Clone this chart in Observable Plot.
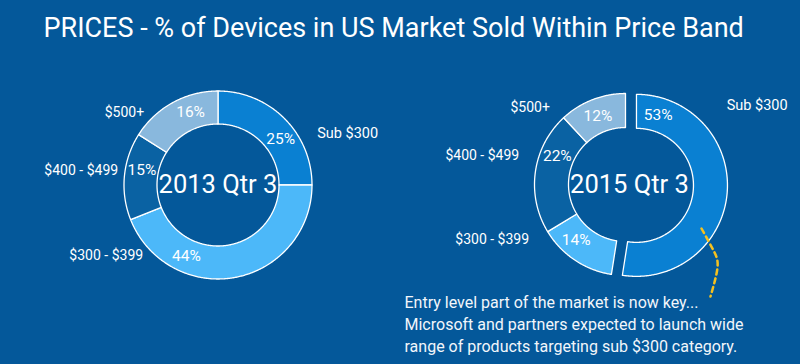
<!DOCTYPE html>
<html><head><meta charset="utf-8">
<script src="https://cdn.jsdelivr.net/npm/d3@7"></script>
<script src="https://cdn.jsdelivr.net/npm/@observablehq/plot@0.6"></script>
<style>
html,body{margin:0;padding:0;background:#04589a;width:800px;height:364px;overflow:hidden}
#chart svg{display:block;background:#04589a}
</style></head><body><div id="chart"></div>
<script>
// ---- data ----
const title = "PRICES - % of Devices in US Market Sold Within Price Band";
const periods = ["2013 Qtr 3", "2015 Qtr 3"];
const bands = ["Sub $300", "$300 - $399", "$400 - $499", "$500+"];
const share2013 = [25, 44, 15, 16];
const share2015 = [53, 14, 22, 12];
const note = [
  "Entry level part of the market is now key...",
  "Microsoft and partners expected to launch wide",
  "range of products targeting sub $300 category."
];

// ---- style / layout ----
const colors = ["#0a80d2", "#4cb8f9", "#0a62a3", "#89b8dd"];
const FONT = "Roboto, 'Liberation Sans', sans-serif";
const W = 800, H = 364;
const layout = [
  {cx: 217.5, cy: 184.5, R: 94, r: 61, explode: [0, 0, 0, 0], labelAt: [0.6, 0.72, 0.6, 0.64], gap: [17, 13, 7, 14], lift: [-6, 0, 0, 0]},
  {cx: 625, cy: 184, R: 91, r: 57, explode: [11, 0, 0, 0], labelAt: [0.09, 0.66, 0.69, 0.49], gap: [33, 24, 20, 16], lift: [-9, 0, 0, -8]}
];

const shares = [share2013, share2015];
const polys = [], pctLabels = [], catLabels = [], centers = [];
periods.forEach((p, i) => {
  const L = layout[i];
  centers.push({x: L.cx + (i ? 4 : 0), y: L.cy, text: p});
  const arcs = d3.pie().sort(null).value(d => d)(shares[i]);
  arcs.forEach((a, j) => {
    const mid = (a.startAngle + a.endAngle) / 2;
    const cx = L.cx + L.explode[j] * Math.sin(mid);
    const cy = L.cy - L.explode[j] * Math.cos(mid);
    const n = Math.max(2, Math.ceil((a.endAngle - a.startAngle) / 0.01));
    const id = p + "|" + bands[j];
    for (let k = 0; k <= n; k++) {
      const t = a.startAngle + (a.endAngle - a.startAngle) * k / n;
      polys.push({id, band: bands[j], x: cx + L.R * Math.sin(t), y: cy - L.R * Math.cos(t)});
    }
    for (let k = n; k >= 0; k--) {
      const t = a.startAngle + (a.endAngle - a.startAngle) * k / n;
      polys.push({id, band: bands[j], x: cx + L.r * Math.sin(t), y: cy - L.r * Math.cos(t)});
    }
    const t = a.startAngle + (a.endAngle - a.startAngle) * L.labelAt[j];
    const rm = (L.R + L.r) / 2;
    const lx = cx + rm * Math.sin(t), ly = cy - rm * Math.cos(t);
    pctLabels.push({x: lx, y: ly, text: shares[i][j] + "%"});
    const dy = ly - cy;
    const half = Math.sqrt(Math.max(0, L.R * L.R - dy * dy));
    const left = Math.sin(t) < 0;
    catLabels.push({x: left ? cx - half - L.gap[j] : cx + half + L.gap[j], y: ly + L.lift[j], text: bands[j], left});
  });
});

const connector = [{x: 701, y: 228}, {x: 713, y: 250}, {x: 717, y: 267}, {x: 710, y: 296}];

const chart = Plot.plot({
  width: W, height: H,
  margin: 0,
  style: {background: "#04589a", color: "white", fontFamily: FONT},
  x: {domain: [0, W], range: [0, W], axis: null},
  y: {domain: [0, H], range: [0, H], axis: null},
  color: {domain: bands, range: colors},
  marks: [
    Plot.line(polys, {x: "x", y: "y", z: "id", fill: "band", stroke: "white", strokeWidth: 1.3, curve: "linear-closed"}),
    Plot.line(connector, {x: "x", y: "y", curve: "natural", stroke: "#f6c11e", strokeWidth: 2.5, strokeDasharray: "5,4"}),
    Plot.text(pctLabels, {x: "x", y: "y", text: "text", fill: "white", fontSize: 15.5, fontFamily: FONT}),
    Plot.text(catLabels.filter(d => d.left), {x: "x", y: "y", text: "text", fill: "white", fontSize: 14, fontFamily: FONT, textAnchor: "end"}),
    Plot.text(catLabels.filter(d => !d.left), {x: "x", y: "y", text: "text", fill: "white", fontSize: 14.5, fontFamily: FONT, textAnchor: "start"}),
    Plot.text(centers, {x: "x", y: "y", text: "text", fill: "white", fontSize: 25.5, fontFamily: FONT}),
    Plot.text([title], {frameAnchor: "top-left", dx: 43, dy: 27.5, text: d => d, fill: "white", fontSize: 27, fontFamily: FONT, textAnchor: "start", lineAnchor: "middle"}),
    Plot.text([note.join("\n")], {frameAnchor: "top-left", dx: 404, dy: 292, text: d => d, fill: "#f2f6fb", fontSize: 16, lineHeight: 1.375, fontFamily: FONT, textAnchor: "start", lineAnchor: "top"})
  ]
});
document.getElementById("chart").appendChild(chart);
</script>
</body></html>
